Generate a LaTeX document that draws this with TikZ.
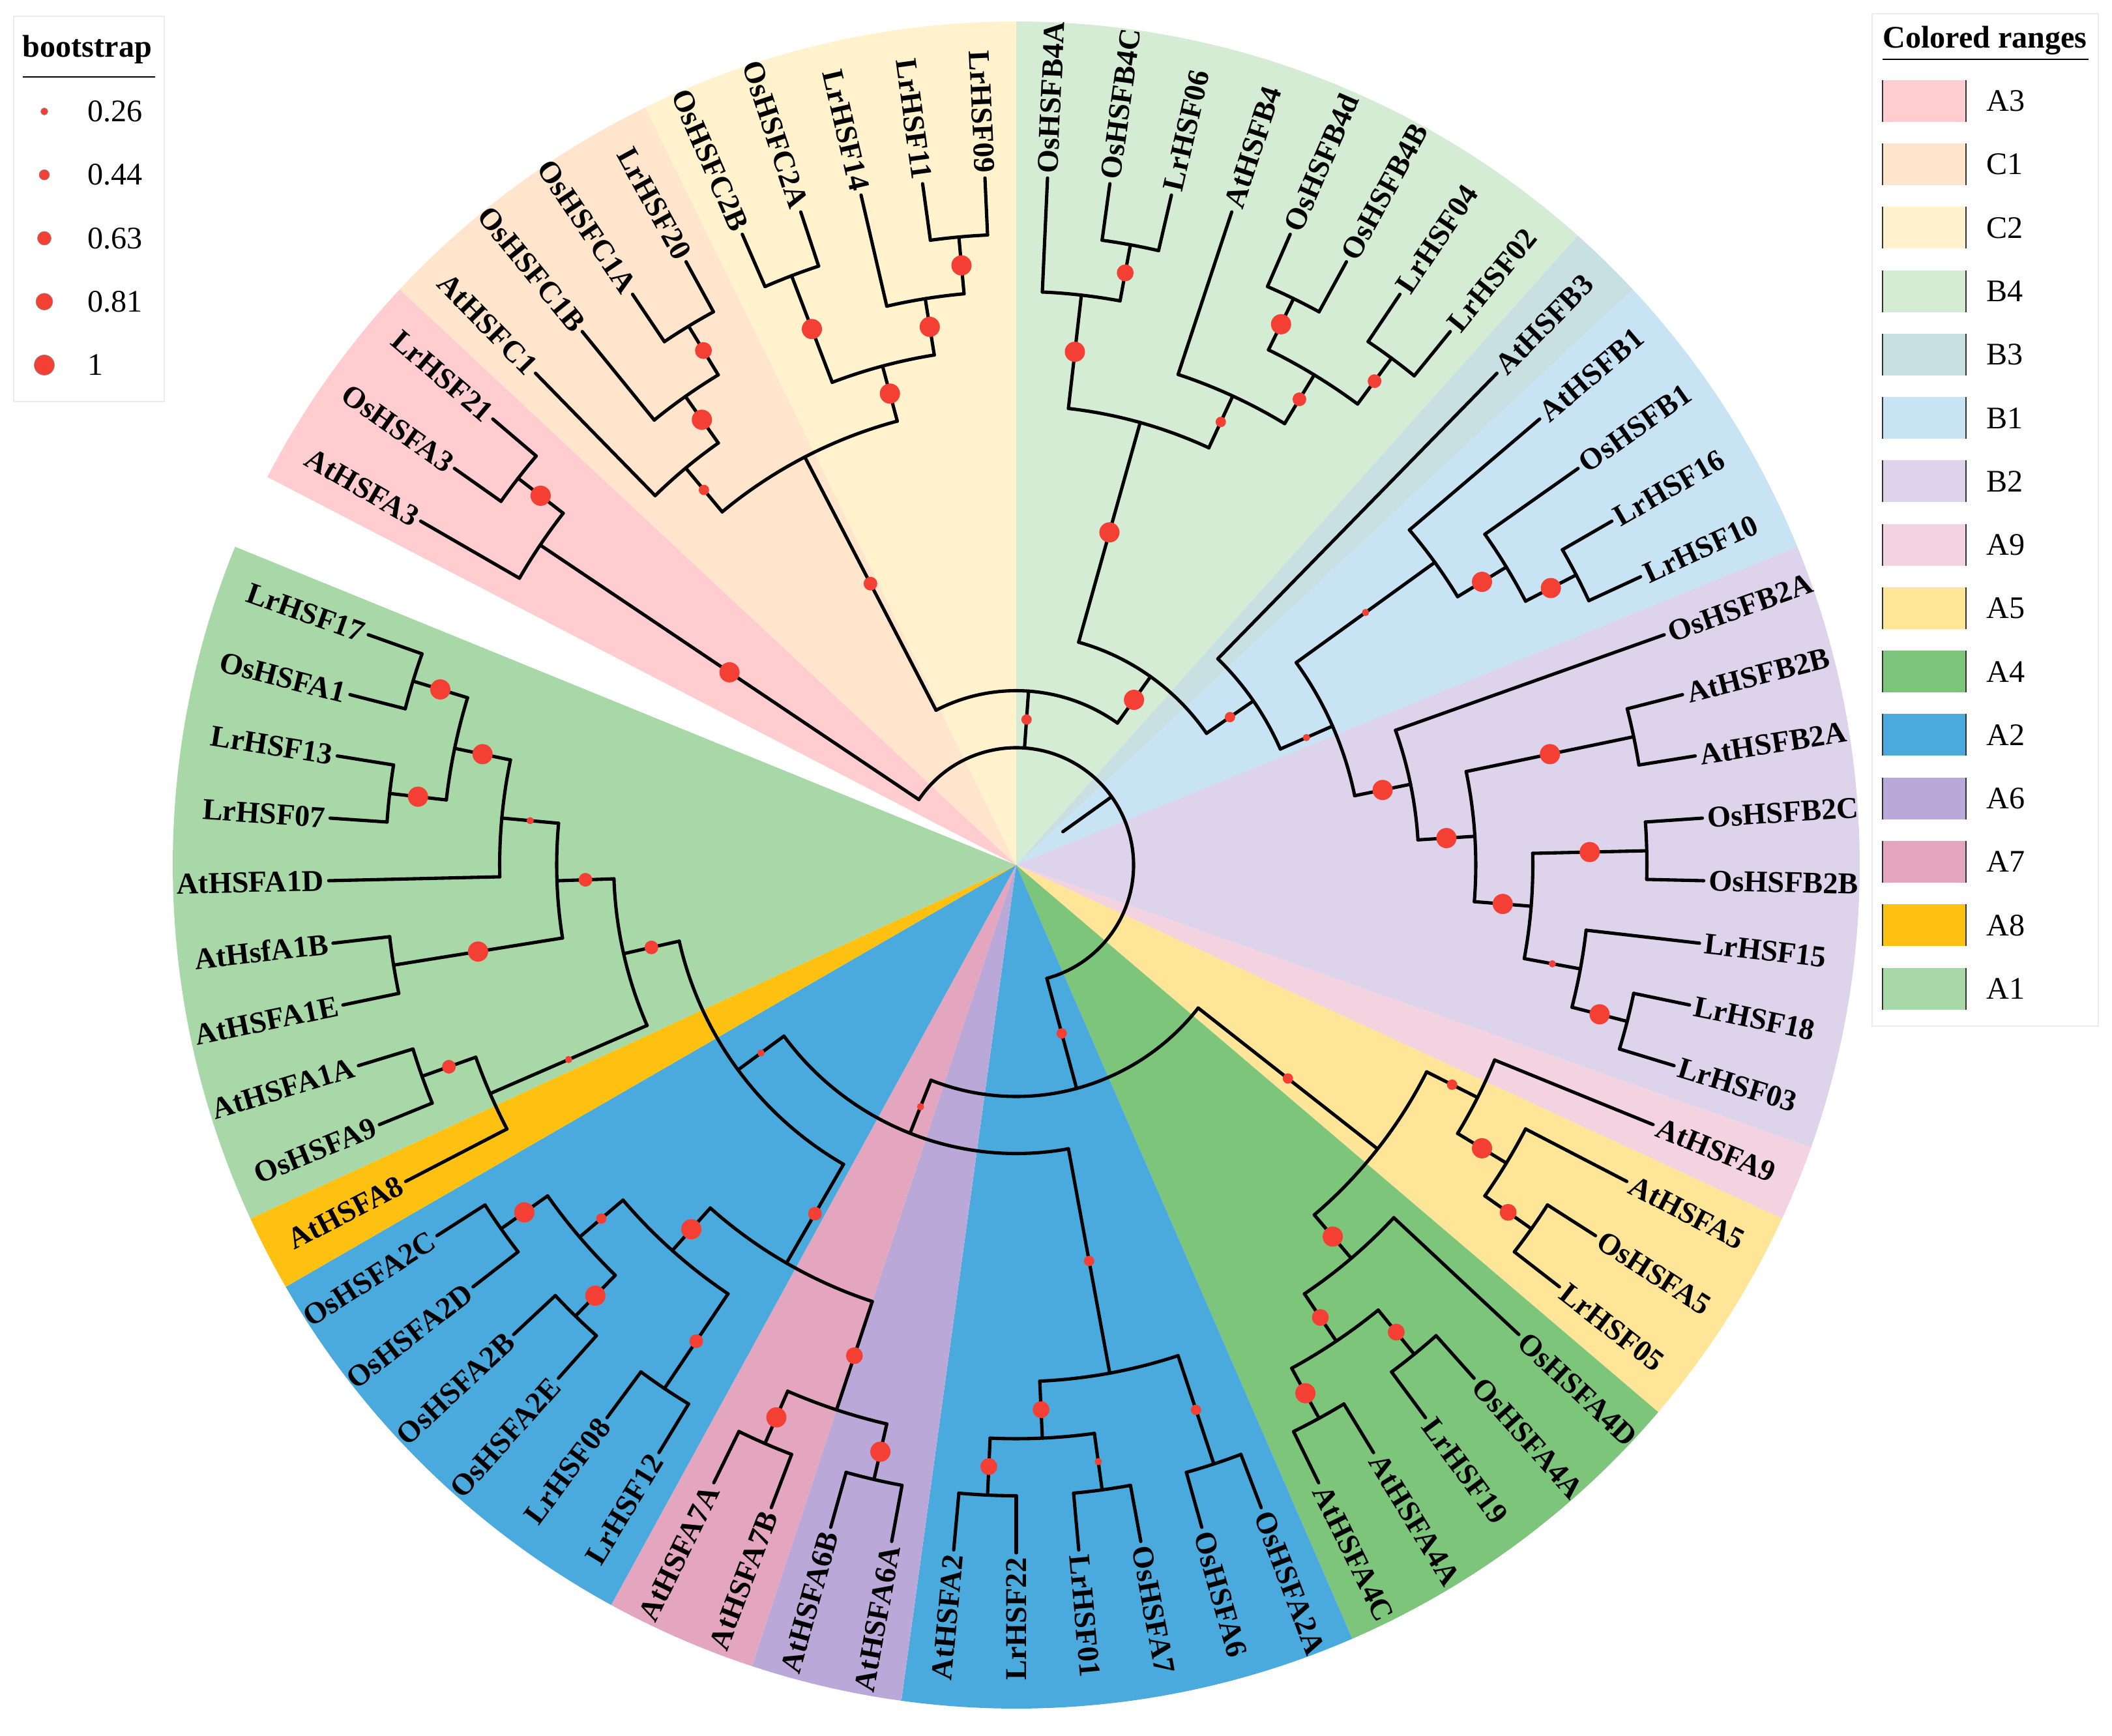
\documentclass[tikz,border=0pt]{standalone}
\usepackage{fontspec}
\setmainfont{Liberation Serif}
\usepackage{xcolor}
\usepackage{tikz}
\usetikzlibrary{calc}
\definecolor{rangeAthree}{RGB}{255,204,207}
\definecolor{rangeCone}{RGB}{255,229,204}
\definecolor{rangeCtwo}{RGB}{255,242,204}
\definecolor{rangeBfour}{RGB}{212,235,212}
\definecolor{rangeBthree}{RGB}{200,224,226}
\definecolor{rangeBone}{RGB}{200,227,244}
\definecolor{rangeBtwo}{RGB}{221,211,235}
\definecolor{rangeAnine}{RGB}{242,211,223}
\definecolor{rangeAfive}{RGB}{255,229,151}
\definecolor{rangeAfour}{RGB}{125,197,123}
\definecolor{rangeAtwo}{RGB}{74,170,222}
\definecolor{rangeAsix}{RGB}{185,168,216}
\definecolor{rangeAseven}{RGB}{228,166,190}
\definecolor{rangeAeight}{RGB}{254,193,18}
\definecolor{rangeAone}{RGB}{168,216,168}
\definecolor{bootred}{RGB}{244,64,52}

\tikzset{
  branch/.style={line width=1.45pt, line cap=round, line join=round},
  bootdot/.style={fill=bootred},
  leaflabel/.style={font=\fontsize{13.2}{15}\selectfont\bfseries, inner sep=0pt},
  legendframe/.style={draw=black!8, line width=0.6pt},
  legendtitle/.style={font=\fontsize{13.7}{16}\selectfont\bfseries, inner sep=0pt},
  legendtext/.style={font=\fontsize{13.7}{16}\selectfont, inner sep=0pt},
  swatchedge/.style={draw=black!80, line width=0.5pt},
}

% clade: name, angle, height, parent height, bootstrap
\newcommand{\clade}[5]{%
  \coordinate (#1) at (#2:{depthr(#3)});
  \coordinate (#1-base) at (#2:{depthr(#4)});
  \draw[branch] (#1-base) -- (#1);
  \fill[bootdot] ($(#1)!0.5!(#1-base)$) circle[radius={bootr(#5)}];
}
% arc joining the children of a clade
\newcommand{\cladearc}[4]{\draw[branch] (#1) arc[start angle=#2, end angle=#3, radius={depthr(#4)}];}
% coloured wedge
\newcommand{\colrange}[3]{\fill[#1] (0,0) -- (#2:12.94) arc[start angle=#2, end angle=#3, radius=12.94] -- cycle;}

\begin{document}
\begin{tikzpicture}[declare function={depthr(\h)=10.55-0.875*\h; bootr(\v)=0.055+0.135*(\v-0.26);}]
\useasboundingbox (-15.59,-13.35) rectangle (16.81,13.27);

% coloured ranges
\colrange{rangeAthree}{152.61}{136.96}
\colrange{rangeCone}{136.96}{116.09}
\colrange{rangeCtwo}{116.09}{90}
\colrange{rangeBfour}{90}{48.26}
\colrange{rangeBthree}{48.26}{43.04}
\colrange{rangeBone}{43.04}{22.17}
\colrange{rangeBtwo}{22.17}{-19.57}
\colrange{rangeAnine}{-19.57}{-24.78}
\colrange{rangeAfive}{-24.78}{-40.43}
\colrange{rangeAfour}{-40.43}{-66.52}
\colrange{rangeAtwo}{-66.52}{-97.83}
\colrange{rangeAsix}{-97.83}{-108.26}
\colrange{rangeAseven}{-108.26}{-118.70}
\colrange{rangeAtwo}{-118.70}{-150}
\colrange{rangeAeight}{-150}{-155.22}
\colrange{rangeAone}{-155.22}{-202.17}

% leaves
\foreach \j/\lab/\hp in {0/AtHSFA3/2, 1/OsHSFA3/1, 2/LrHSF21/1, 3/AtHSFC1/3, 4/OsHSFC1B/2,
    5/OsHSFC1A/1, 6/LrHSF20/1, 7/OsHSFC2B/1, 8/OsHSFC2A/1, 9/LrHSF14/2, 10/LrHSF11/1,
    11/LrHSF09/1, 12/OsHSFB4A/2, 13/OsHSFB4C/1, 14/LrHSF06/1, 15/AtHSFB4/3, 16/OsHSFB4d/1,
    17/OsHSFB4B/1, 18/LrHSF04/1, 19/LrHSF02/1, 20/AtHSFB3/7, 21/AtHSFB1/3, 22/OsHSFB1/2,
    23/LrHSF16/1, 24/LrHSF10/1, 25/OsHSFB2A/5, 26/AtHSFB2B/1, 27/AtHSFB2A/1, 28/OsHSFB2C/1,
    29/OsHSFB2B/1, 30/LrHSF15/2, 31/LrHSF18/1, 32/LrHSF03/1, 33/AtHSFA9/3, 34/AtHSFA5/2,
    35/OsHSFA5/1, 36/LrHSF05/1, 37/OsHSFA4D/3, 38/OsHSFA4A/1, 39/LrHSF19/1, 40/AtHSFA4A/1,
    41/AtHSFA4C/1, 42/OsHSFA2A/1, 43/OsHSFA6/1, 44/OsHSFA7/1, 45/LrHSF01/1, 46/LrHSF22/1,
    47/AtHSFA2/1, 48/AtHSFA6A/1, 49/AtHSFA6B/1, 50/AtHSFA7B/1, 51/AtHSFA7A/1, 52/LrHSF12/1,
    53/LrHSF08/1, 54/OsHSFA2E/1, 55/OsHSFA2B/1, 56/OsHSFA2D/1, 57/OsHSFA2C/1, 58/AtHSFA8/2,
    59/OsHSFA9/1, 60/AtHSFA1A/1, 61/AtHSFA1E/1, 62/AtHsfA1B/1, 63/AtHSFA1D/3, 64/LrHSF07/1,
    65/LrHSF13/1, 66/OsHSFA1/1, 67/LrHSF17/1} {
  \pgfmathsetmacro\ang{150-5.217391*\j}
  \coordinate (tip\j) at (\ang:{depthr(0)});
  \coordinate (lb\j) at (\ang:{depthr(\hp)});
  \draw[branch] (lb\j) -- (tip\j);
  \pgfmathtruncatemacro\rside{and(\j>11,\j<46)}
  \ifnum\rside=1
    \node[leaflabel, rotate=\ang, anchor=west] (L\j) at (\ang:10.62) {\lab};
  \else
    \node[leaflabel, rotate=\ang+180, anchor=east] (L\j) at (\ang:10.62) {\lab};
  \fi
}

% A3 and C
\clade{a3s}{142.17}{1}{2}{1}
\clade{a3}{146.09}{2}{10}{1}
\clade{c1a}{121.30}{1}{2}{0.81}
\clade{c1b}{125.22}{2}{3}{1}
\clade{c1}{129.78}{3}{4}{0.44}
\clade{c2a}{110.87}{1}{3}{1}
\clade{c2b}{95.22}{1}{2}{1}
\clade{c2c}{99.13}{2}{3}{1}
\clade{c2}{105.00}{3}{4}{1}
\clade{cc}{117.39}{4}{9}{0.63}
% B
\clade{b4a}{79.57}{1}{2}{0.81}
\clade{b4b}{83.48}{2}{4}{1}
\clade{b4c}{63.91}{1}{2}{1}
\clade{b4d}{53.48}{1}{2}{0.63}
\clade{b4e}{58.70}{2}{3}{0.63}
\clade{b4f}{65.22}{3}{4}{0.44}
\clade{b4}{74.35}{4}{8}{1}
\clade{b1a}{27.39}{1}{2}{1}
\clade{b1b}{31.30}{2}{3}{1}
\clade{b1}{35.87}{3}{6}{0.26}
\clade{b2a}{11.74}{1}{4}{1}
\clade{b2b}{1.30}{1}{3}{1}
\clade{b2c}{-14.35}{1}{2}{1}
\clade{b2d}{-10.43}{2}{3}{0.26}
\clade{b2e}{-4.57}{3}{4}{1}
\clade{b2f}{3.59}{4}{5}{1}
\clade{b2}{11.58}{5}{6}{1}
\clade{by}{23.72}{6}{7}{0.26}
\clade{bx}{34.69}{7}{8}{0.44}
\clade{bb}{54.52}{8}{9}{1}
\clade{cb}{85.95}{9}{10}{0.44}
% A
\clade{a5a}{-35.22}{1}{2}{0.81}
\clade{a5}{-31.30}{2}{3}{1}
\clade{a95}{-26.74}{3}{4}{0.44}
\clade{a4a}{-50.87}{1}{2}{0.81}
\clade{a4b}{-61.30}{1}{2}{1}
\clade{a4c}{-56.09}{2}{3}{0.81}
\clade{a4}{-49.57}{3}{4}{1}
\clade{a954}{-38.15}{4}{8}{0.44}
\clade{a2a}{-82.17}{1}{2}{0.26}
\clade{a2b}{-92.61}{1}{2}{0.81}
\clade{a2c}{-87.39}{2}{3}{0.81}
\clade{a2d}{-71.74}{1}{3}{0.44}
\clade{a2r}{-79.57}{3}{7}{0.44}
\clade{a6}{-103.04}{1}{2}{1}
\clade{a7}{-113.48}{1}{2}{1}
\clade{a67}{-108.26}{2}{4}{0.81}
\clade{a2e}{-123.91}{1}{3}{0.63}
\clade{a2f}{-134.35}{1}{2}{1}
\clade{a2g}{-144.78}{1}{2}{1}
\clade{a2h}{-139.57}{2}{3}{0.44}
\clade{a2l}{-131.74}{3}{4}{1}
\clade{a2lsix}{-120.00}{4}{6}{0.63}
\clade{a1a}{-160.43}{1}{2}{0.63}
\clade{a81}{-156.52}{2}{5}{0.26}
\clade{a1b}{-170.87}{1}{4}{1}
\clade{a1c}{-186.52}{1}{2}{1}
\clade{a1d}{-196.96}{1}{2}{1}
\clade{a1e}{-191.74}{2}{3}{1}
\clade{a1f}{-185.22}{3}{4}{0.26}
\clade{a1main}{-178.04}{4}{5}{0.63}
\clade{a181}{-167.28}{5}{6}{0.63}
\clade{aleft}{-143.64}{6}{7}{0.26}
\clade{aA}{-111.61}{7}{8}{0.26}
\clade{aroot}{-74.88}{8}{10}{0.44}

\cladearc{lb1}{144.78}{139.57}{1}
\cladearc{lb0}{150.00}{142.17}{2}
\cladearc{lb5}{123.91}{118.70}{1}
\cladearc{lb4}{129.13}{121.30}{2}
\cladearc{lb3}{134.35}{125.22}{3}
\cladearc{lb7}{113.48}{108.26}{1}
\cladearc{lb10}{97.83}{92.61}{1}
\cladearc{lb9}{103.04}{95.22}{2}
\cladearc{c2a-base}{110.87}{99.13}{3}
\cladearc{c1-base}{129.78}{105.00}{4}
\cladearc{lb13}{82.17}{76.96}{1}
\cladearc{lb12}{87.39}{79.57}{2}
\cladearc{lb16}{66.52}{61.30}{1}
\cladearc{lb18}{56.09}{50.87}{1}
\cladearc{b4c-base}{63.91}{53.48}{2}
\cladearc{lb15}{71.74}{58.70}{3}
\cladearc{b4b-base}{83.48}{65.22}{4}
\cladearc{lb23}{30.00}{24.78}{1}
\cladearc{lb22}{35.22}{27.39}{2}
\cladearc{lb21}{40.43}{31.30}{3}
\cladearc{lb26}{14.35}{9.13}{1}
\cladearc{lb28}{3.91}{-1.30}{1}
\cladearc{lb31}{-11.74}{-16.96}{1}
\cladearc{lb30}{-6.52}{-14.35}{2}
\cladearc{b2b-base}{1.30}{-10.43}{3}
\cladearc{b2a-base}{11.74}{-4.57}{4}
\cladearc{lb25}{19.57}{3.59}{5}
\cladearc{b1-base}{35.87}{11.58}{6}
\cladearc{lb20}{45.65}{23.72}{7}
\cladearc{b4-base}{74.35}{34.69}{8}
\cladearc{cc-base}{117.39}{54.52}{9}
\cladearc{lb35}{-32.61}{-37.83}{1}
\cladearc{lb34}{-27.39}{-35.22}{2}
\cladearc{lb33}{-22.17}{-31.30}{3}
\cladearc{lb38}{-48.26}{-53.48}{1}
\cladearc{lb40}{-58.70}{-63.91}{1}
\cladearc{a4a-base}{-50.87}{-61.30}{2}
\cladearc{lb37}{-43.04}{-56.09}{3}
\cladearc{a95-base}{-26.74}{-49.57}{4}
\cladearc{lb42}{-69.13}{-74.35}{1}
\cladearc{lb44}{-79.57}{-84.78}{1}
\cladearc{lb46}{-90.00}{-95.22}{1}
\cladearc{a2a-base}{-82.17}{-92.61}{2}
\cladearc{a2d-base}{-71.74}{-87.39}{3}
\cladearc{lb48}{-100.43}{-105.65}{1}
\cladearc{lb50}{-110.87}{-116.09}{1}
\cladearc{a6-base}{-103.04}{-113.48}{2}
\cladearc{lb52}{-121.30}{-126.52}{1}
\cladearc{lb54}{-131.74}{-136.96}{1}
\cladearc{lb56}{-142.17}{-147.39}{1}
\cladearc{a2f-base}{-134.35}{-144.78}{2}
\cladearc{a2e-base}{-123.91}{-139.57}{3}
\cladearc{a67-base}{-108.26}{-131.74}{4}
\cladearc{lb59}{-157.83}{-163.04}{1}
\cladearc{lb58}{-152.61}{-160.43}{2}
\cladearc{lb61}{-168.26}{-173.48}{1}
\cladearc{lb64}{-183.91}{-189.13}{1}
\cladearc{lb66}{-194.35}{-199.57}{1}
\cladearc{a1c-base}{-186.52}{-196.96}{2}
\cladearc{lb63}{-178.70}{-191.74}{3}
\cladearc{a1b-base}{-170.87}{-185.22}{4}
\cladearc{a81-base}{-156.52}{-178.04}{5}
\cladearc{a2lsix-base}{-120.00}{-167.28}{6}
\cladearc{a2r-base}{-79.57}{-143.64}{7}
\cladearc{a954-base}{-38.15}{-111.61}{8}
% root
\cladearc{a3-base}{146.09}{-74.88}{10}
\coordinate (root) at (35.6:{depthr(10)});
\coordinate (rootstub) at (35.6:0.88);
\draw[branch] (rootstub) -- (root);

% bootstrap legend
\draw[legendframe] (-15.38,13.02) rectangle (-13.07,7.11);
\node[legendtitle] (boottitle) at (-14.25,12.51) {bootstrap};
\draw[line width=0.6pt] (-15.24,12.09) -- (-13.21,12.09);
\foreach \v [count=\k from 0] in {0.26,0.44,0.63,0.81,1} {
  \fill[bootdot, draw=black!45, line width=0.2pt] (-14.91,{11.56-0.9725*\k}) circle[radius={bootr(\v)}];
  \node[legendtext, anchor=west] (bootval\k) at (-14.25,{11.56-0.9725*\k}) {\v};
}

% range legend
\draw[legendframe] (13.13,13.06) rectangle (16.60,-2.47);
\node[legendtitle] (rangetitle) at (14.86,12.65) {Colored ranges};
\draw[line width=0.6pt] (13.29,12.36) -- (16.45,12.36);
\foreach \c/\lab [count=\k from 0] in {rangeAthree/A3, rangeCone/C1, rangeCtwo/C2, rangeBfour/B4,
    rangeBthree/B3, rangeBone/B1, rangeBtwo/B2, rangeAnine/A9, rangeAfive/A5, rangeAfour/A4,
    rangeAtwo/A2, rangeAsix/A6, rangeAseven/A7, rangeAeight/A8, rangeAone/A1} {
  \pgfmathsetmacro\ry{11.72-0.9725*\k}
  \fill[\c] (13.29,\ry-0.32) rectangle (14.57,\ry+0.32);
  \draw[swatchedge] (13.29,\ry-0.32) -- (13.29,\ry+0.32);
  \draw[swatchedge] (14.57,\ry-0.32) -- (14.57,\ry+0.32);
  \node[legendtext, anchor=west] (range\k) at (14.88,\ry) {\lab};
}
\end{tikzpicture}
\end{document}
